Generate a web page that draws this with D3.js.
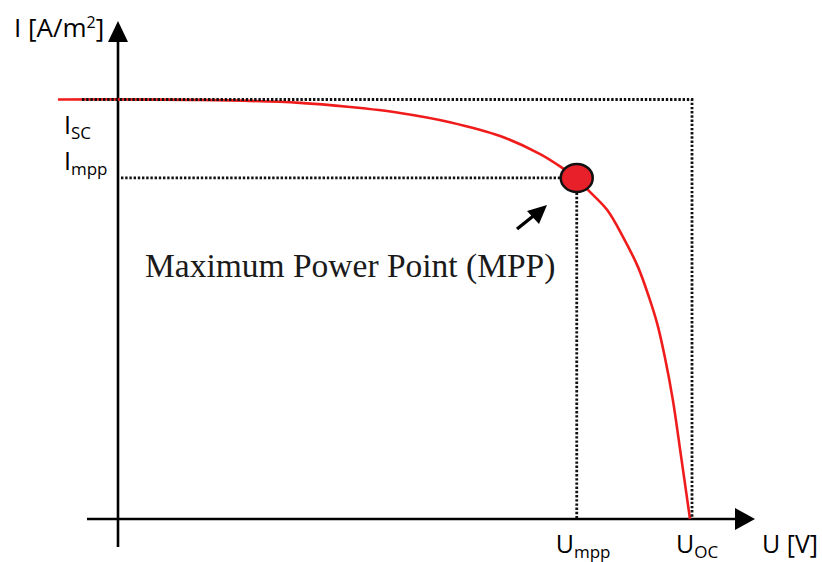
<!DOCTYPE html>
<html><head><meta charset="utf-8">
<script src="https://cdn.jsdelivr.net/npm/d3@7"></script>
<style>body{margin:0;background:#fff}svg{display:block}</style>
</head><body>
<script>
// I-V curve (normalised: U/Uoc, I/Isc)
const voltage = [-0.105, 0.143, 0.318, 0.406, 0.493, 0.580, 0.668, 0.738, 0.778, 0.802, 0.822, 0.855, 0.883, 0.909, 0.928, 0.943, 0.956, 0.970, 0.984, 1.0];
const current = [1.0, 0.999, 0.992, 0.982, 0.968, 0.946, 0.913, 0.870, 0.836, 0.813, 0.784, 0.737, 0.672, 0.601, 0.530, 0.464, 0.386, 0.284, 0.153, 0.0];
const keyNames = ["Isc", "Impp", "Umpp", "Uoc"];
const keyValues = [1.0, 0.813, 0.802, 1.0];
const mppLabel = "Maximum Power Point (MPP)";
const yTitle = ["I [A/m", "2", "]"];
const xTitle = "U [V]";

const W = 822, H = 562;
const svg = d3.select("body").append("svg").attr("width", W).attr("height", H);
const x = d3.scaleLinear().domain([0, 1]).range([118, 690]);
const y = d3.scaleLinear().domain([0, 1]).range([519, 99.5]);
const Isc = keyValues[0], Impp = keyValues[1], Umpp = keyValues[2], Uoc = keyValues[3];

const dot = {stroke: "#111", "stroke-width": 2.8, "stroke-dasharray": "2.4,1.8", fill: "none"};
function dotted(d) {
  const p = svg.append("path").attr("d", d);
  Object.entries(dot).forEach(([k, v]) => p.attr(k, v));
}
// axes
svg.append("line").attr("x1", x(0)).attr("x2", x(0)).attr("y1", 547).attr("y2", 40)
  .attr("stroke", "#000").attr("stroke-width", 2.6);
svg.append("path").attr("d", `M${x(0)},21 L${x(0)-10},42 L${x(0)+10},42 Z`).attr("fill", "#000");
svg.append("line").attr("x1", 87).attr("x2", 737).attr("y1", y(0)).attr("y2", y(0))
  .attr("stroke", "#000").attr("stroke-width", 2.6);
svg.append("path").attr("d", `M755,${y(0)} L735,${y(0)-11} L735,${y(0)+11} Z`).attr("fill", "#000");

// curve
const line = d3.line().x((d, i) => x(voltage[i])).y((d, i) => y(current[i])).curve(d3.curveCatmullRom.alpha(0.5));
svg.append("path").datum(voltage).attr("d", line).attr("fill", "none")
  .attr("stroke", "#f01c1c").attr("stroke-width", 2.6);

// dotted guides
dotted(`M82,${y(Isc)} H${x(Uoc)+2} V${y(0)}`);
dotted(`M${x(0)+3},${y(Impp)} H${x(Umpp)} V${y(0)}`);

// MPP marker
svg.append("ellipse").attr("cx", x(Umpp)).attr("cy", y(Impp)).attr("rx", 16).attr("ry", 14)
  .attr("fill", "#e8202a").attr("stroke", "#111").attr("stroke-width", 2.5);

// arrow to MPP
svg.append("line").attr("x1", 517).attr("y1", 229).attr("x2", 537).attr("y2", 213)
  .attr("stroke", "#000").attr("stroke-width", 3.5);
svg.append("path").attr("d", "M547,205 L527,211 L539,224 Z").attr("fill", "#000");

svg.append("text").attr("x", 145).attr("y", 277).attr("font-family", "Liberation Serif, Times New Roman, serif")
  .attr("font-size", 33.5).attr("fill", "#1a1a1a").text(mppLabel);

const sans = "Open Sans, Noto Sans, sans-serif";
function subLabel(xp, yp, main, sub) {
  const t = svg.append("text").attr("x", xp).attr("y", yp).attr("font-family", sans).attr("font-size", 25).attr("fill", "#000");
  t.append("tspan").text(main);
  t.append("tspan").attr("font-size", 17).attr("dy", 5).text(sub);
}
subLabel(64, y(Isc) + 34, "I", "SC");
subLabel(64, y(Impp) - 8, "I", "mpp");
subLabel(x(Umpp) - 21, 553, "U", "mpp");
subLabel(x(Uoc) - 14, 553, "U", "OC");

const yt = svg.append("text").attr("x", 14).attr("y", 37).attr("font-family", sans).attr("font-size", 26).attr("fill", "#000");
yt.append("tspan").text(yTitle[0]);
yt.append("tspan").attr("font-size", 16).attr("dy", -9).text(yTitle[1]);
yt.append("tspan").attr("dy", 9).text(yTitle[2]);

svg.append("text").attr("x", 762).attr("y", 553).attr("font-family", sans).attr("font-size", 25).attr("fill", "#000").text(xTitle);
</script>
</body></html>
